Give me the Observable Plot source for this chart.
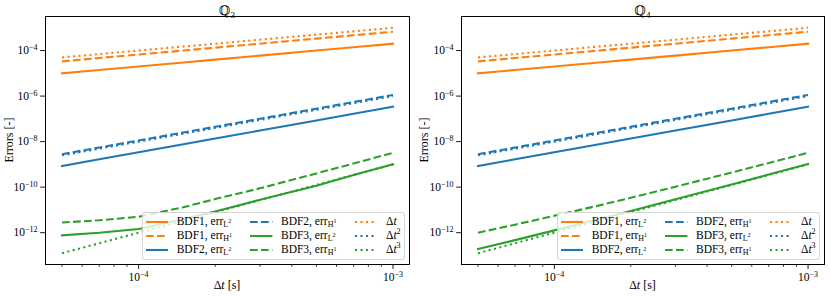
<!DOCTYPE html>
<html><head><meta charset="utf-8">
<script src="https://cdn.jsdelivr.net/npm/d3@7"></script>
<script src="https://cdn.jsdelivr.net/npm/@observablehq/plot@0.6"></script>
<style>
body{margin:0;background:#fff;}
#root{position:relative;width:830px;height:296px;overflow:hidden;font-family:"Liberation Serif","DejaVu Serif",serif;color:#000;}
.panel{position:absolute;top:0;width:415px;height:296px;}
.panel svg{position:absolute;left:0;top:0;}
.lab{position:absolute;white-space:nowrap;transform:translate(-50%,-50%);font-size:12px;line-height:1;}
.ylab{transform:translate(-50%,-50%) rotate(-90deg);}
.title{font-size:13px;}
.legend{position:absolute;background:rgba(255,255,255,0.8);border:1px solid rgba(204,204,204,0.8);border-radius:3px;box-sizing:border-box;}
.entry{position:absolute;font-size:11.5px;white-space:nowrap;line-height:1;transform:translateY(-50%);}
.handle{position:absolute;transform:translateY(-50%);}
.sub{font-size:8px;position:relative;top:2px;}
.sub .sup{font-size:6px;position:relative;top:-4px;}
.sup2{font-size:8px;position:relative;top:-5px;}
</style></head>
<body><div id="root"></div>
<script>
// ---- data ----
const dt = [5e-5, 7e-5, 1e-4, 1.5e-4, 2e-4, 3e-4, 5e-4, 7e-4, 1e-3];
const bdf1L2 = [1.0e-5, 1.4e-5, 2.0e-5, 3.0e-5, 4.0e-5, 6.0e-5, 1.0e-4, 1.4e-4, 2.0e-4];
const bdf1H1 = [3.35e-5, 4.7e-5, 6.7e-5, 1.0e-4, 1.34e-4, 2.0e-4, 3.35e-4, 4.7e-4, 6.7e-4];
const bdf2L2 = [8.5e-10, 1.67e-9, 3.4e-9, 7.65e-9, 1.36e-8, 3.06e-8, 8.5e-8, 1.67e-7, 3.4e-7];
const bdf2H1 = [2.8e-9, 5.5e-9, 1.12e-8, 2.52e-8, 4.48e-8, 1.01e-7, 2.8e-7, 5.49e-7, 1.12e-6];
const refDt1 = [5e-5, 7e-5, 1e-4, 1.5e-4, 2e-4, 3e-4, 5e-4, 7e-4, 1e-3];
const refDt2 = [2.5e-9, 4.9e-9, 1e-8, 2.25e-8, 4e-8, 9e-8, 2.5e-7, 4.9e-7, 1e-6];
const refDt3 = [1.25e-13, 3.43e-13, 1e-12, 3.375e-12, 8e-12, 2.7e-11, 1.25e-10, 3.43e-10, 1e-9];
const q3Bdf3L2 = [7.7e-13, 9.9e-13, 1.45e-12, 4.0e-12, 8.6e-12, 2.77e-11, 1.15e-10, 3.4e-10, 1.0e-9];
const q3Bdf3H1 = [2.8e-12, 3.5e-12, 5.0e-12, 1.32e-11, 3.0e-11, 8.9e-11, 4.0e-10, 1.1e-9, 3.2e-9];
const q4Bdf3L2 = [1.9e-13, 4.7e-13, 1.26e-12, 3.96e-12, 9.0e-12, 2.93e-11, 1.32e-10, 3.56e-10, 1.03e-9];
const q4Bdf3H1 = [1.0e-12, 2.25e-12, 5.5e-12, 1.57e-11, 3.4e-11, 1.04e-10, 4.4e-10, 1.15e-9, 3.25e-9];
const xMajorTicks = [1e-4, 1e-3];
const xMinorTicks = [5e-5, 6e-5, 7e-5, 8e-5, 9e-5, 2e-4, 3e-4, 4e-4, 5e-4, 6e-4, 7e-4, 8e-4, 9e-4];
const yTicks = [1e-12, 1e-10, 1e-8, 1e-6, 1e-4];
const panelTitles = ["Q3", "Q4"];

// ---- styles ----
const COL = {orange: "#ff7f0e", blue: "#1f77b4", green: "#2ca02c"};
const DASH = {solid: null, dashed: "7.7,3.3", dotted: "2.1,3.4"};
const LW = 2.1;

function seriesFor(g3, g4) {
  return [
    {label: 'BDF1, err<span class="sub">L<span class="sup">2</span></span>', v: bdf1L2, c: COL.orange, d: "solid"},
    {label: 'BDF1, err<span class="sub">H<span class="sup">1</span></span>', v: bdf1H1, c: COL.orange, d: "dashed"},
    {label: 'BDF2, err<span class="sub">L<span class="sup">2</span></span>', v: bdf2L2, c: COL.blue, d: "solid"},
    {label: 'BDF2, err<span class="sub">H<span class="sup">1</span></span>', v: bdf2H1, c: COL.blue, d: "dashed"},
    {label: 'BDF3, err<span class="sub">L<span class="sup">2</span></span>', v: g3, c: COL.green, d: "solid"},
    {label: 'BDF3, err<span class="sub">H<span class="sup">1</span></span>', v: g4, c: COL.green, d: "dashed"},
    {label: 'Δ<i>t</i>', v: refDt1, c: COL.orange, d: "dotted"},
    {label: 'Δ<i>t</i><span class="sup2">2</span>', v: refDt2, c: COL.blue, d: "dotted"},
    {label: 'Δ<i>t</i><span class="sup2">3</span>', v: refDt3, c: COL.green, d: "dotted"}
  ];
}

const expFmt = d => "10^" + Math.round(Math.log10(d));

function fixSup(svg) {
  d3.select(svg).selectAll("text").each(function() {
    const m = /^10\^(-?\d+)$/.exec(this.textContent.trim());
    if (!m) return;
    const n = +m[1];
    this.textContent = "";
    const s = d3.select(this);
    s.append("tspan").text("10");
    s.append("tspan").attr("dy", "-0.5em").attr("font-size", "8px").text((n < 0 ? "\u2212" : "") + Math.abs(n));
  });
}

function makePanel(idx, left, marginLeft, g3, g4) {
  const series = seriesFor(g3, g4);
  const marks = [
    Plot.axisX(xMinorTicks, {tickSize: 2.8, tickFormat: () => "", label: null, strokeWidth: 0.8}),
    Plot.axisX(xMajorTicks, {tickSize: 4.9, tickPadding: 3, tickFormat: expFmt, label: null, fontSize: 11.5, strokeWidth: 0.9}),
    Plot.axisY(yTicks, {tickSize: 4.9, tickPadding: 3, tickFormat: expFmt, label: null, fontSize: 11.5, strokeWidth: 0.9})
  ];
  for (const s of series) {
    marks.push(Plot.line(dt.map((x, i) => ({x, y: s.v[i]})), {
      x: "x", y: "y", stroke: s.c, strokeWidth: LW,
      strokeDasharray: DASH[s.d], strokeLinecap: s.d === "solid" ? "square" : "butt"
    }));
  }
  marks.push(Plot.frame({stroke: "#000", strokeWidth: 1}));
  const svg = Plot.plot({
    width: 415, height: 296,
    marginLeft, marginRight: 6, marginTop: 16, marginBottom: 32,
    style: {fontFamily: '"Liberation Serif","DejaVu Serif",serif', fontSize: "11.5px", color: "#000", background: "transparent"},
    x: {type: "log", domain: [4.305e-5, 1.161e-3]},
    y: {type: "log", domain: [4.0e-14, 3.13e-3]},
    marks
  });
  fixSup(svg);
  const panel = document.createElement("div");
  panel.className = "panel";
  panel.style.left = left + "px";
  panel.appendChild(svg);
  const cx = marginLeft + (415 - 6 - marginLeft) / 2;
  const t = panelTitles[idx];
  panel.insertAdjacentHTML("beforeend",
    `<div class="lab title" style="left:${cx}px;top:10px">ℚ<span style="font-size:9px;position:relative;top:3px">${t.slice(1)}</span></div>` +
    `<div class="lab" style="left:${cx}px;top:285px">Δ<i>t</i> [s]</div>` +
    `<div class="lab ylab" style="left:9px;top:140px">Errors [-]</div>`);
  // legend
  const lg = document.createElement("div");
  lg.className = "legend";
  Object.assign(lg.style, {left: "142px", top: "212px", width: "263px", height: "48px"});
  const colX = [[3, 33.7], [107.3, 138], [212, 243]];
  const rowY = [8.7, 22.5, 36.8];
  series.forEach((s, i) => {
    const c = Math.floor(i / 3), r = i % 3;
    const h = `<svg class="handle" width="22.4" height="6" style="left:${colX[c][0]}px;top:${rowY[r]}px"><line x1="0" x2="22.4" y1="3" y2="3" stroke="${s.c}" stroke-width="${LW}" ${DASH[s.d] ? `stroke-dasharray="${DASH[s.d]}"` : ""} /></svg>`;
    const tx = `<div class="entry" style="left:${colX[c][1]}px;top:${rowY[r]}px">${s.label}</div>`;
    lg.insertAdjacentHTML("beforeend", h + tx);
  });
  panel.appendChild(lg);
  document.getElementById("root").appendChild(panel);
}

makePanel(0, 0, 45, q3Bdf3L2, q3Bdf3H1);
makePanel(1, 415, 46, q4Bdf3L2, q4Bdf3H1);
</script>
</body></html>
